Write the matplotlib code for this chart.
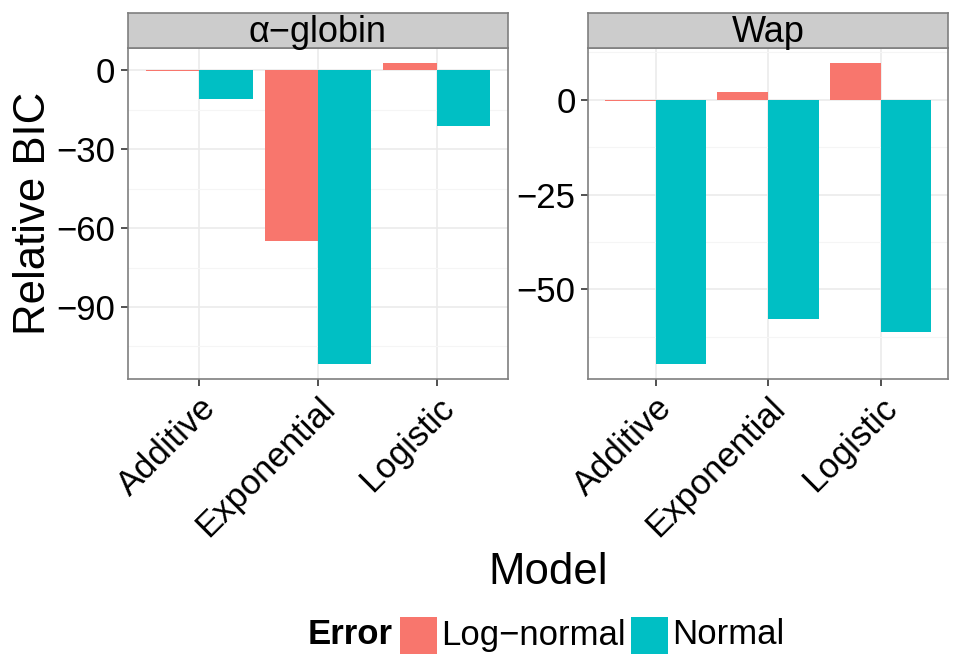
import matplotlib
matplotlib.use("Agg")
import matplotlib.pyplot as plt
from matplotlib.patches import Rectangle
import numpy as np

plt.rcParams['font.family'] = ['Liberation Sans', 'DejaVu Sans']

models = ["Additive", "Exponential", "Logistic"]
panels = ["α−globin", "Wap"]
error_types = ["Log−normal", "Normal"]
colors = {"Log−normal": "#F8766D", "Normal": "#00BFC4"}

# Relative BIC per panel, per error type, per model
bic_globin_lognormal = [-0.4, -65.0, 2.8]
bic_globin_normal = [-11.0, -111.7, -21.0]
bic_wap_lognormal = [-0.3, 2.1, 9.7]
bic_wap_normal = [-69.7, -57.9, -61.3]

panel_data = {
    "α−globin": {"Log−normal": bic_globin_lognormal, "Normal": bic_globin_normal},
    "Wap": {"Log−normal": bic_wap_lognormal, "Normal": bic_wap_normal},
}
major_ticks = {"α−globin": [0, -30, -60, -90], "Wap": [0, -25, -50]}
minor_ticks = {"α−globin": [-15, -45, -75, -105, 15], "Wap": [12.5, -12.5, -37.5, -62.5]}

W, H = 956, 662
fig = plt.figure(figsize=(W / 100, H / 100), dpi=100)

def px_axes(x0, y0, x1, y1):
    return fig.add_axes([x0 / W, 1 - y1 / H, (x1 - x0) / W, (y1 - y0) / H])

panel_boxes = [(128, 48, 508, 379), (588, 48, 948, 379)]
strip_top = 13
tick_fs = 25

for name, (x0, y0, x1, y1) in zip(panels, panel_boxes):
    ax = px_axes(x0, y0, x1, y1)
    data = panel_data[name]
    vals = np.concatenate([data[e] for e in error_types])
    lo, hi = min(vals.min(), 0), max(vals.max(), 0)
    pad = 0.05 * (hi - lo)
    ax.set_ylim(lo - pad, hi + pad)
    ax.set_xlim(0.4, 3.6)
    x = np.arange(1, len(models) + 1)
    w = 0.45
    for i, e in enumerate(error_types):
        offs = -w / 2 if i == 0 else w / 2
        ax.bar(x + offs, data[e], width=w, color=colors[e], edgecolor='none', zorder=3)
    ax.set_facecolor('white')
    ax.set_xticks(x)
    ax.set_xticklabels(models, rotation=45, ha='right', rotation_mode='anchor', fontsize=tick_fs)
    ax.set_yticks(major_ticks[name])
    ax.set_yticks([m for m in minor_ticks[name] if lo - pad < m < hi + pad], minor=True)
    ax.tick_params(axis='y', which='major', labelsize=tick_fs, length=5, width=1.2, color='#333333', pad=4)
    ax.tick_params(axis='x', which='major', length=5, width=1.2, color='#333333', pad=4)
    ax.tick_params(which='minor', length=0)
    ax.grid(True, which='major', color='#EBEBEB', linewidth=1.2, zorder=0)
    ax.grid(True, which='minor', axis='y', color='#F5F5F5', linewidth=0.8, zorder=0)
    ax.set_axisbelow(True)
    for s in ax.spines.values():
        s.set_color('#7F7F7F')
        s.set_linewidth(1.2)
    # facet strip
    sax = px_axes(x0, strip_top, x1, y0)
    sax.set_xticks([]); sax.set_yticks([])
    sax.set_facecolor('#CCCCCC')
    for s in sax.spines.values():
        s.set_color('#7F7F7F')
        s.set_linewidth(1.2)
    sax.text(0.5, 0.45, name, ha='center', va='center', fontsize=26, transform=sax.transAxes)

fig.text(34 / W, 1 - 213 / H, "Relative BIC", rotation=90, ha='center', va='center', fontsize=31.5)
fig.text(548 / W, 1 - 572 / H, "Model", ha='center', va='center', fontsize=31.5)

# legend
ly = 1 - 635 / H
fig.text(308 / W, ly, "Error", ha='left', va='center', fontsize=25, fontweight='bold')
key_h = 37
for e, kx, tx in [("Log−normal", 400, 441), ("Normal", 631, 672)]:
    fig.patches.append(Rectangle((kx / W, 1 - (635 + key_h / 2) / H), key_h / W, key_h / H,
                                 transform=fig.transFigure, facecolor=colors[e], edgecolor='none'))
    fig.text(tx / W, ly, e, ha='left', va='center', fontsize=25)

fig.savefig("out.png", dpi=100, facecolor='white')
